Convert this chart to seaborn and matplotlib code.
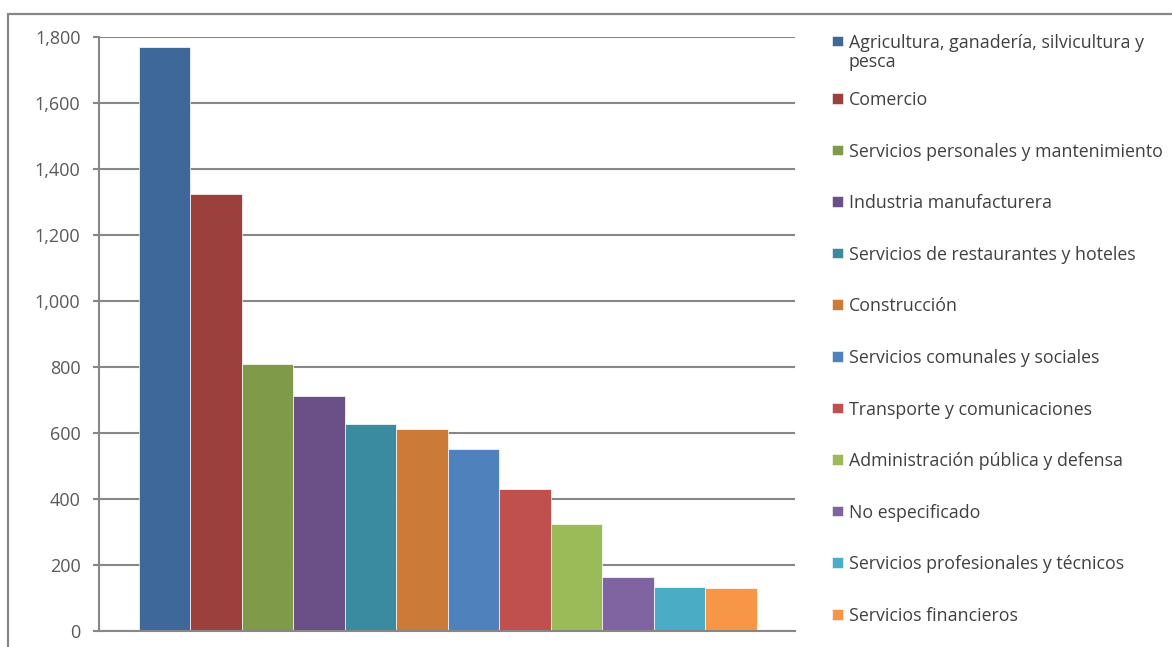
import textwrap

import matplotlib
matplotlib.use("Agg")
import matplotlib.pyplot as plt
import pandas as pd
import seaborn as sns
from matplotlib.patches import Rectangle
from matplotlib.ticker import FuncFormatter, MultipleLocator

# Población ocupada por sector de actividad
sectores = [
    "Agricultura, ganadería, silvicultura y pesca",
    "Comercio",
    "Servicios personales y mantenimiento",
    "Industria manufacturera",
    "Servicios de restaurantes y hoteles",
    "Construcción",
    "Servicios comunales y sociales",
    "Transporte y comunicaciones",
    "Administración pública y defensa",
    "No especificado",
    "Servicios profesionales y técnicos",
    "Servicios financieros",
]
ocupados = [1768, 1322, 807, 712, 626, 611, 550, 429, 322, 164, 132, 128]
colores = [
    "#3E6899", "#9C403D", "#7F9A48", "#6A5086", "#3A8AA0", "#CB7A38",
    "#4F81BD", "#C0504D", "#9BBB59", "#8064A2", "#4BACC6", "#F79646",
]
marcas_y = [0, 200, 400, 600, 800, 1000, 1200, 1400, 1600, 1800]

sns.set_theme(style="white")
plt.rcParams["font.family"] = ["Open Sans", "DejaVu Sans"]

W, H = 1172, 647
fig = plt.figure(figsize=(W / 100, H / 100), dpi=100)
fig.patch.set_facecolor("white")

GRIS = "#878787"

# marco exterior del gráfico
fig.add_artist(Rectangle((7.5 / W, -0.05), 1.2, 1.05 - 13.5 / H,
                         transform=fig.transFigure, fill=False,
                         edgecolor=GRIS, linewidth=1.6))

ax = fig.add_axes([98.5 / W, 1 - 630.7 / H, (795 - 98.5) / W, (630.7 - 36.7) / H])
df = pd.DataFrame({"sector": sectores, "ocupados": ocupados})
sns.barplot(data=df, x="sector", y="ocupados", hue="sector", order=sectores,
            hue_order=sectores, palette=colores, width=1.0, saturation=1,
            legend=False, edgecolor="white", linewidth=0.5, ax=ax)

ax.set_ylim(marcas_y[0], marcas_y[-1])
ax.set_xlim(-1.287, 12.246)
ax.yaxis.set_major_locator(MultipleLocator(200))
ax.yaxis.set_major_formatter(FuncFormatter(lambda v, _: f"{int(v):,}"))
ax.set_xlabel("")
ax.set_ylabel("")
ax.set_xticks([])
ax.grid(axis="y", color=GRIS, linewidth=1.5)
ax.set_axisbelow(True)
for lado in ("top", "right"):
    ax.spines[lado].set_visible(False)
for lado in ("left", "bottom"):
    ax.spines[lado].set_color(GRIS)
    ax.spines[lado].set_linewidth(1.5)
ax.tick_params(axis="y", left=True, length=4, width=1.5, color=GRIS,
               labelsize=13, labelcolor="#595959", pad=9)

# leyenda a la derecha
for i, (sector, color) in enumerate(zip(sectores, colores)):
    centro = 41 if i == 0 else 98.3 + 51.6 * (i - 1)
    fig.add_artist(Rectangle((832 / W, 1 - (centro + 5.3) / H), 10.5 / W, 10.6 / H,
                             transform=fig.transFigure, facecolor=color,
                             edgecolor="white", linewidth=0.4))
    for j, linea in enumerate(textwrap.wrap(sector, 38)):
        base = centro + 6.7 + 19.5 * j
        fig.text(849 / W, 1 - base / H, linea, ha="left", va="baseline",
                 fontsize=12.75, color="#404040")

fig.savefig("out.png", dpi=100, facecolor="white")
